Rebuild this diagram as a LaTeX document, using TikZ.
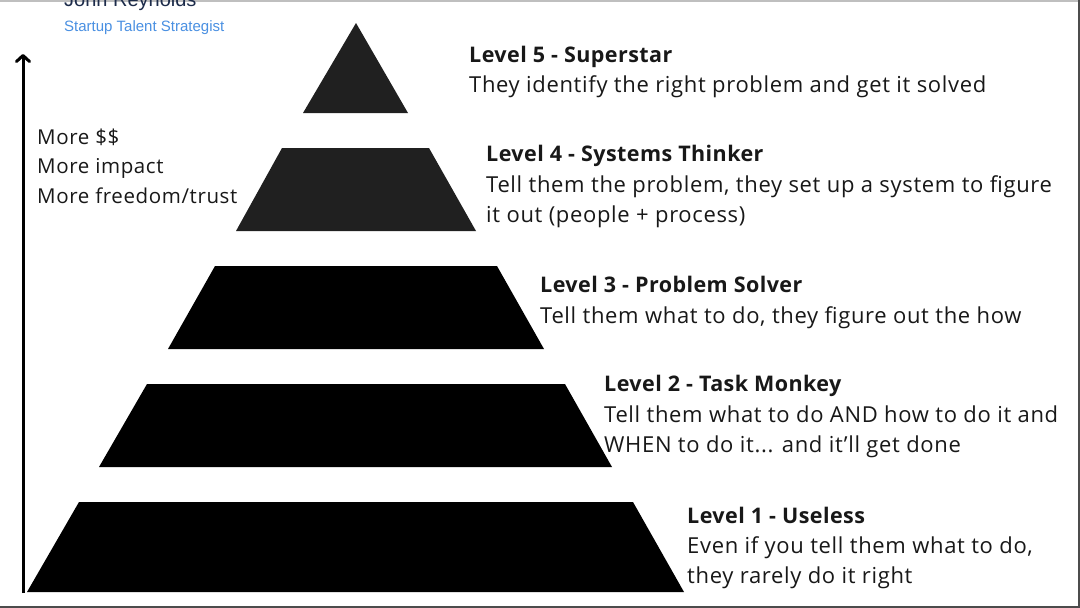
\documentclass[tikz,border=0pt]{standalone}
\usepackage{fontspec}
\setmainfont{Open Sans}
\newfontfamily\hdrfont{Liberation Sans}
\newfontfamily\bodyfont[LetterSpace=3]{Open Sans}
\newfontfamily\titlefont[LetterSpace=2]{Open Sans}
\newfontfamily\sidefont[LetterSpace=3]{Open Sans}
\usetikzlibrary{arrows.meta}
\definecolor{navy}{RGB}{28,43,74}
\definecolor{skyblue}{RGB}{74,144,226}
\definecolor{darkfill}{RGB}{32,32,32}
\definecolor{txt}{RGB}{24,24,24}
\tikzset{
  title/.style={anchor=base west, inner sep=0pt, text=txt, font=\titlefont\fontsize{21.5}{26}\selectfont\bfseries},
  body/.style={anchor=base west, inner sep=0pt, text=txt, font=\bodyfont\fontsize{22}{26}\selectfont},
  side/.style={anchor=base west, inner sep=0pt, text=txt, font=\sidefont\fontsize{20.5}{26}\selectfont},
}
\begin{document}
\begin{tikzpicture}[x=1pt,y=-1pt]
\useasboundingbox (0,0) rectangle (1080,608);
\clip (0,0) rectangle (1080,608);
\fill[white] (0,0) rectangle (1080,608);
% frame
\draw[black!25, line width=1.5pt] (0,0.75) -- (1080,0.75);
\draw[black!70, line width=2pt] (1079,0) -- (1079,608);
\draw[black!70, line width=2pt] (0,607) -- (1080,607);
% header
\node[anchor=base west, inner sep=0pt, text=navy, font=\hdrfont\fontsize{20}{24}\selectfont] (name) at (64,6) {John Reynolds};
\node[anchor=base west, inner sep=0pt, text=skyblue, font=\hdrfont\fontsize{15}{18}\selectfont] (role) at (64,31) {Startup Talent Strategist};
% pyramid
\fill[darkfill] (356,23) -- (408,113) -- (303,113) -- cycle;
\fill[darkfill] (282,148) -- (429,148) -- (476,231) -- (236,231) -- cycle;
\fill[black] (215,266) -- (497,266) -- (544,349) -- (168,349) -- cycle;
\fill[black] (147,384) -- (565,384) -- (612,467) -- (99,467) -- cycle;
\fill[black] (79,502) -- (633,502) -- (684,592) -- (27,592) -- cycle;
% arrow
\coordinate (abot) at (23,593);
\coordinate (atop) at (23,54);
\draw[line width=3pt, line join=round, -{Straight Barb[length=6pt,width=13pt,round]}] (abot) -- (atop);
% side text
\node[side] (s1) at (37,144) {More \$\$};
\node[side] (s2) at (37,173.5) {More impact};
\node[side] (s3) at (37,203) {More freedom/trust};
% level 5
\node[title] (t5) at (469,62) {Level 5 - Superstar};
\node[body] (b5) at (469,92) {They identify the right problem and get it solved};
% level 4
\node[title] (t4) at (486,161) {Level 4 - Systems Thinker};
\node[body] (b4a) at (486,192) {Tell them the problem, they set up a system to figure};
\node[body] (b4b) at (486,222) {it out (people + process)};
% level 3
\node[title] (t3) at (540,292) {Level 3 - Problem Solver};
\node[body] (b3) at (540,323) {Tell them what to do, they figure out the how};
% level 2
\node[title] (t2) at (604,391) {Level 2 - Task Monkey};
\node[body] (b2a) at (604,422) {Tell them what to do AND how to do it and};
\node[body] (b2b) at (604,452) {WHEN to do it... and it’ll get done};
% level 1
\node[title] (t1) at (687,523) {Level 1 - Useless};
\node[body] (b1a) at (687,553) {Even if you tell them what to do,};
\node[body] (b1b) at (687,583) {they rarely do it right};
\end{tikzpicture}
\end{document}
